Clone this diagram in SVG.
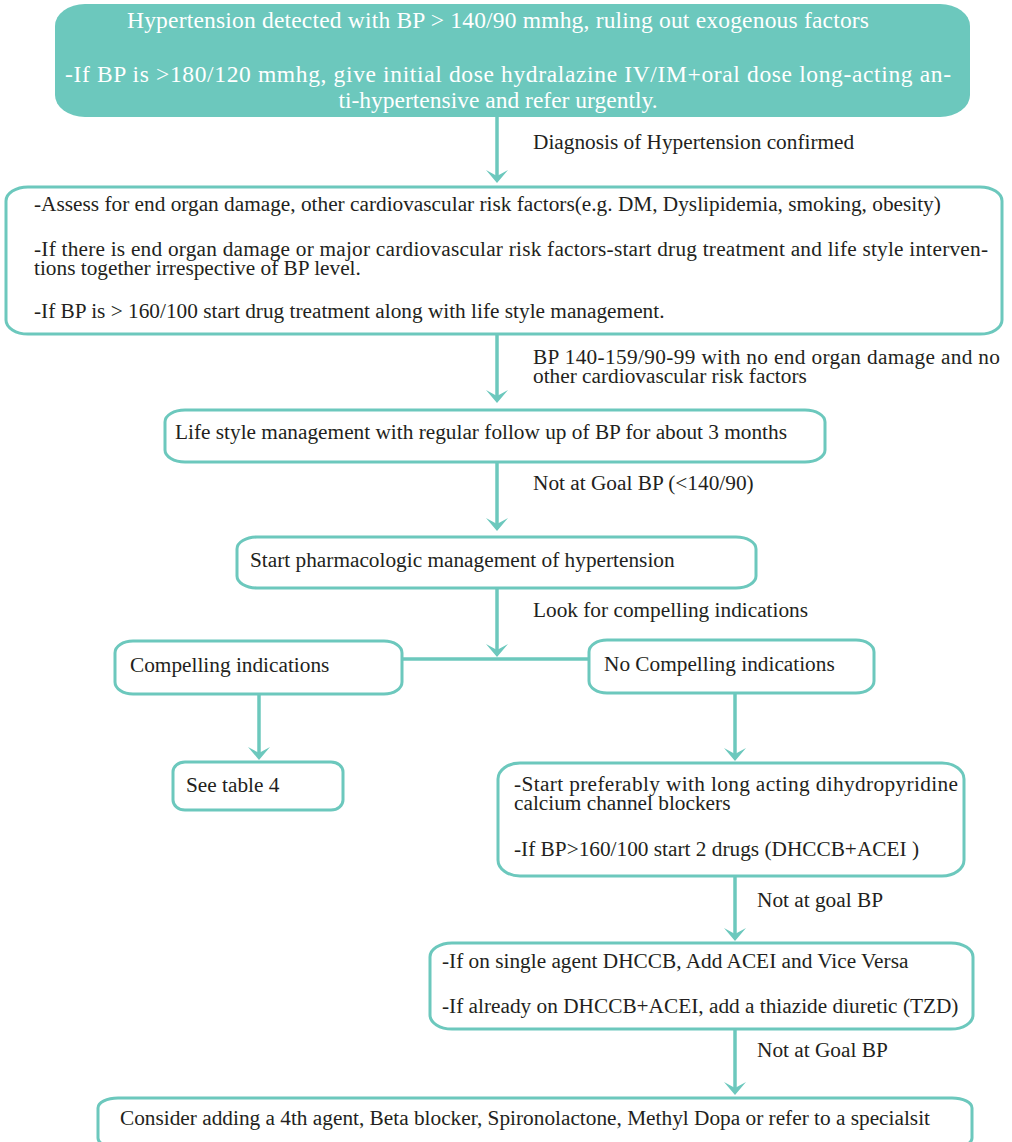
<svg xmlns="http://www.w3.org/2000/svg" width="1012" height="1142" viewBox="0 0 1012 1142">
<style>
.box{fill:#ffffff;stroke:#6cc8bd;stroke-width:3}
.hdr{fill:#6cc8bd;stroke:none}
.t{font-family:"Liberation Serif","Times New Roman",serif;font-size:21.3px;fill:#231f20}
.w{font-family:"Liberation Serif","Times New Roman",serif;font-size:23.5px;fill:#ffffff}
.c{fill:none;stroke:#6cc8bd;stroke-width:3.5}
</style>
<defs>
<marker id="ah" viewBox="-14 -12 16 24" refX="-7" refY="0" markerWidth="16" markerHeight="24" markerUnits="userSpaceOnUse" orient="auto">
<path d="M0,0 L-13,-11 L-7,0 L-13,11 Z" fill="#6cc8bd"/>
</marker>
</defs>
<rect width="1012" height="1142" fill="#ffffff"/>
<g id="connectors">
<line class="c" x1="497" y1="117" x2="497" y2="176" marker-end="url(#ah)"/>
<line class="c" x1="497" y1="334" x2="497" y2="396" marker-end="url(#ah)"/>
<line class="c" x1="497" y1="462" x2="497" y2="524" marker-end="url(#ah)"/>
<line class="c" x1="497" y1="589" x2="497" y2="650" marker-end="url(#ah)"/>
<line class="c" x1="402" y1="659" x2="589" y2="659"/>
<line class="c" x1="259" y1="694" x2="259" y2="753" marker-end="url(#ah)"/>
<line class="c" x1="735" y1="693" x2="735" y2="754" marker-end="url(#ah)"/>
<line class="c" x1="735" y1="876" x2="735" y2="934" marker-end="url(#ah)"/>
<line class="c" x1="735" y1="1029" x2="735" y2="1088" marker-end="url(#ah)"/>
<text class="t" x="533" y="149">Diagnosis of Hypertension confirmed</text>
<text class="t" x="533" y="364" textLength="467" lengthAdjust="spacing">BP 140-159/90-99 with no end organ damage and no</text>
<text class="t" x="533" y="383">other cardiovascular risk factors</text>
<text class="t" x="533" y="490">Not at Goal BP (&lt;140/90)</text>
<text class="t" x="533" y="617">Look for compelling indications</text>
<text class="t" x="757" y="907">Not at goal BP</text>
<text class="t" x="757" y="1057">Not at Goal BP</text>
</g>
<g id="n1">
<rect class="hdr" x="55" y="4" width="915" height="113" rx="30" ry="22"/>
<text class="w" x="498" y="28" text-anchor="middle" textLength="742" lengthAdjust="spacing">Hypertension detected with BP &gt; 140/90 mmhg, ruling out exogenous factors</text>
<text class="w" x="508" y="82" text-anchor="middle" textLength="886" lengthAdjust="spacing">-If BP is &gt;180/120 mmhg, give initial dose hydralazine IV/IM+oral dose long-acting an-</text>
<text class="w" x="498" y="108" text-anchor="middle">ti-hypertensive and refer urgently.</text>
</g>
<g id="n2">
<rect class="box" x="6" y="187" width="996" height="147" rx="22" ry="14"/>
<text class="t" x="34" y="211">-Assess for end organ damage, other cardiovascular risk factors(e.g. DM, Dyslipidemia, smoking, obesity)</text>
<text class="t" x="34" y="256" textLength="954" lengthAdjust="spacing">-If there is end organ damage or major cardiovascular risk factors-start drug treatment and life style interven-</text>
<text class="t" x="34" y="275">tions together irrespective of BP level.</text>
<text class="t" x="34" y="318">-If BP is &gt; 160/100 start drug treatment along with life style management.</text>
</g>
<g id="n3">
<rect class="box" x="165" y="410" width="660" height="52" rx="20" ry="12"/>
<text class="t" x="175" y="439">Life style management with regular follow up of BP for about 3 months</text>
</g>
<g id="n4">
<rect class="box" x="237" y="537" width="519" height="51" rx="20" ry="12"/>
<text class="t" x="250" y="567">Start pharmacologic management of hypertension</text>
</g>
<g id="n5">
<rect class="box" x="115" y="641" width="287" height="53" rx="18" ry="12"/>
<text class="t" x="130" y="672">Compelling indications</text>
</g>
<g id="n6">
<rect class="box" x="589" y="640" width="285" height="53" rx="18" ry="12"/>
<text class="t" x="604" y="671">No Compelling indications</text>
</g>
<g id="n7">
<rect class="box" x="173" y="762" width="170" height="48" rx="12" ry="10"/>
<text class="t" x="186" y="792">See table 4</text>
</g>
<g id="n8">
<rect class="box" x="498" y="763" width="466" height="113" rx="22" ry="16"/>
<text class="t" x="514" y="791" textLength="444" lengthAdjust="spacing">-Start preferably with long acting dihydropyridine</text>
<text class="t" x="514" y="810">calcium channel blockers</text>
<text class="t" x="514" y="856">-If BP&gt;160/100 start 2 drugs (DHCCB+ACEI )</text>
</g>
<g id="n9">
<rect class="box" x="430" y="943" width="543" height="86" rx="22" ry="14"/>
<text class="t" x="442" y="968">-If on single agent DHCCB, Add ACEI and Vice Versa</text>
<text class="t" x="442" y="1013">-If already on DHCCB+ACEI, add a thiazide diuretic (TZD)</text>
</g>
<g id="n10">
<rect class="box" x="98" y="1098" width="874" height="50" rx="20" ry="10"/>
<text class="t" x="120" y="1125">Consider adding a 4th agent, Beta blocker, Spironolactone, Methyl Dopa or refer to a specialsit</text>
</g>
</svg>
